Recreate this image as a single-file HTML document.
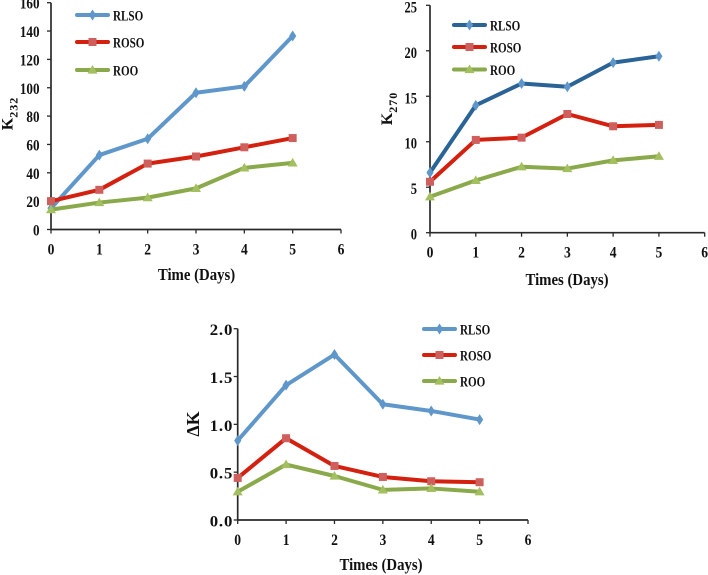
<!DOCTYPE html>
<html>
<head>
<meta charset="utf-8">
<style>
html,body{margin:0;padding:0;background:#fff;width:708px;height:575px;overflow:hidden}
svg{display:block;filter:blur(0.35px)}
text{font-family:"Liberation Serif",serif;font-weight:bold;fill:#111}
</style>
</head>
<body>
<svg id="fig" xmlns="http://www.w3.org/2000/svg" width="708" height="575" viewBox="0 0 708 575"></svg>
<script>
var xTicks = [0, 1, 2, 3, 4, 5, 6];
var days = [0, 1, 2, 3, 4, 5];
var seriesNames = ['RLSO', 'ROSO', 'ROO'];

var k232Ticks = [0, 20, 40, 60, 80, 100, 120, 140, 160];
var k232Rlso = [15, 52.5, 64, 96.5, 101, 136.5];
var k232Roso = [20, 28, 46.5, 51.5, 58, 64.5];
var k232Roo = [14, 19, 22.5, 29, 43.5, 47];

var k270Ticks = [0, 5, 10, 15, 20, 25];
var k270Rlso = [6.6, 14.0, 16.4, 16.05, 18.7, 19.4];
var k270Roso = [5.6, 10.2, 10.45, 13.05, 11.7, 11.85];
var k270Roo = [3.95, 5.75, 7.25, 7.05, 7.95, 8.4];

var deltaTicks = ['0.0', '0.5', '1.0', '1.5', '2.0'];
var deltaRlso = [0.83, 1.41, 1.73, 1.21, 1.14, 1.05];
var deltaRoso = [0.44, 0.855, 0.565, 0.45, 0.405, 0.395];
var deltaRoo = [0.295, 0.58, 0.46, 0.315, 0.33, 0.295];

var NS = 'http://www.w3.org/2000/svg';
var fig = document.getElementById('fig');

function make(parent, tag, attrs) {
  var el = document.createElementNS(NS, tag);
  for (var k in attrs) el.setAttribute(k, attrs[k]);
  parent.appendChild(el);
  return el;
}

function squeezed(parent, x, y, scale, anchor, size, spacing) {
  return make(parent, 'text', {
    transform: 'translate(' + x + ',' + y + ') scale(' + scale + ',1)',
    'text-anchor': anchor,
    'font-size': size,
    'letter-spacing': spacing
  });
}

function drawMarker(g, kind, x, y, fill) {
  var m;
  if (kind === 0) {
    m = make(g, 'polygon', {points: x + ',' + (y - 5.5) + ' ' + (x + 3.6) + ',' + y + ' ' + x + ',' + (y + 5.5) + ' ' + (x - 3.6) + ',' + y, fill: fill});
  } else if (kind === 1) {
    m = make(g, 'rect', {x: x - 4, y: y - 4, width: 8, height: 8, fill: fill});
  } else {
    m = make(g, 'polygon', {points: x + ',' + (y - 5) + ' ' + (x + 5) + ',' + (y + 3.6) + ' ' + (x - 5) + ',' + (y + 3.6), fill: fill});
  }
  
  
}

function drawChart(c) {
  var root = make(fig, 'g', {});
  
  

  var yMax = parseFloat(c.yTicks[c.yTicks.length - 1]);
  var xMax = xTicks[xTicks.length - 1];
  function sx(v) { return c.x0 + (c.x1 - c.x0) * v / xMax; }
  function sy(v) { return c.y0 + (c.y1 - c.y0) * v / yMax; }

  var yAxis = make(root, 'line', {x1: c.x0, x2: c.x0, y1: c.y0 + 0.8, y2: c.y1, stroke: '#2a2a2a', 'stroke-width': 1.7});
  
  
  var xAxis = make(root, 'line', {x1: c.x0, x2: c.x1, y1: c.y0, y2: c.y0, stroke: '#2a2a2a', 'stroke-width': 1.7});
  
  

  c.yTicks.forEach(function (t) {
    var y = sy(parseFloat(t));
    var tick = make(root, 'line', {x1: c.x0 - 4, x2: c.x0, y1: y, y2: y, stroke: '#2a2a2a', 'stroke-width': 1.3});
    
    
    var lab = squeezed(root, c.x0 - c.tickGap, y + c.tickDy, c.tickScale, 'end', 16, c.tickSpacing);
    lab.textContent = t;
    
    
  });

  xTicks.forEach(function (t) {
    var x = sx(t);
    var tick = make(root, 'line', {x1: x, x2: x, y1: c.y0, y2: c.y0 + 4, stroke: '#2a2a2a', 'stroke-width': 1.3});
    
    
    var lab = squeezed(root, x, c.y0 + 25, 0.85, 'middle', 16, 0);
    lab.textContent = t;
    
    
  });

  var xTitle = squeezed(root, c.xTitleX, c.xTitleY, 0.87, 'middle', 17, 0);
  xTitle.textContent = c.xTitle;
  
  

  var yTitle = make(root, 'text', {transform: 'translate(' + c.yTitleX + ',' + c.yTitleY + ') rotate(-90)', 'text-anchor': 'middle', 'font-size': c.yTitleSize});
  
  
  yTitle.appendChild(document.createTextNode(c.yTitle));
  if (c.ySub) {
    var sub = make(yTitle, 'tspan', {dy: 5, 'font-size': 12, 'letter-spacing': 1});
    sub.textContent = c.ySub;
  }

  c.series.forEach(function (vals, i) {
    var g = make(root, 'g', {});
    
    
    var pts = days.map(function (d, j) { return sx(d) + ',' + sy(vals[j]); }).join(' ');
    var line = make(g, 'polyline', {points: pts, fill: 'none', stroke: c.lineColors[i], 'stroke-width': 4, 'stroke-linejoin': 'round', 'stroke-linecap': 'round'});
    
    
    days.forEach(function (d, j) {
      drawMarker(g, i, sx(d), sy(vals[j]), c.markerColors[i]);
    });

    var lg = make(root, 'g', {});
    
    
    var ly = c.legendY[i];
    var ll = make(lg, 'line', {x1: c.legendX, x2: c.legendX + 31, y1: ly, y2: ly, stroke: c.lineColors[i], 'stroke-width': 4, 'stroke-linecap': 'round'});
    
    
    drawMarker(lg, i, c.legendX + 15.5, ly, c.markerColors[i]);
    var lt = squeezed(lg, c.legendX + 36, ly + 5.5, 0.74, 'start', 15, 0);
    lt.textContent = seriesNames[i];
    
    
  });
}

drawChart({
  name: 'k232-chart',
  x0: 51, x1: 341, y0: 229.5, y1: 2.7,
  yTicks: k232Ticks,
  tickGap: 11.5, tickDy: 6, tickScale: 0.82, tickSpacing: 0,
  series: [k232Rlso, k232Roso, k232Roo],
  lineColors: ['#5f97cb', '#d3200f', '#8aa94a'],
  markerColors: ['#5f97cb', '#cf5f5c', '#a3bf5f'],
  legendX: 77, legendY: [15, 42, 70],
  xTitle: 'Time (Days)', xTitleX: 196.5, xTitleY: 280,
  yTitle: 'K', ySub: '232', yTitleX: 12.5, yTitleY: 113.5, yTitleSize: 16
});

drawChart({
  name: 'k270-chart',
  x0: 430, x1: 704.7, y0: 232.7, y1: 5.3,
  yTicks: k270Ticks,
  tickGap: 13, tickDy: 7, tickScale: 0.78, tickSpacing: 0,
  series: [k270Rlso, k270Roso, k270Roo],
  lineColors: ['#2a6396', '#d3200f', '#8aa94a'],
  markerColors: ['#5f97cb', '#cf5f5c', '#a3bf5f'],
  legendX: 454, legendY: [25, 47, 69.5],
  xTitle: 'Times (Days)', xTitleX: 567, xTitleY: 285,
  yTitle: 'K', ySub: '270', yTitleX: 392, yTitleY: 108.5, yTitleSize: 16
});

drawChart({
  name: 'delta-k-chart',
  x0: 237.7, x1: 528, y0: 520, y1: 328.7,
  yTicks: deltaTicks,
  tickGap: 4.5, tickDy: 6.5, tickScale: 1.05, tickSpacing: 0.8,
  series: [deltaRlso, deltaRoso, deltaRoo],
  lineColors: ['#5f97cb', '#d3200f', '#8aa94a'],
  markerColors: ['#5f97cb', '#cf5f5c', '#a3bf5f'],
  legendX: 424, legendY: [329, 355, 381],
  xTitle: 'Times (Days)', xTitleX: 381, xTitleY: 570,
  yTitle: '\u0394K', ySub: '', yTitleX: 199, yTitleY: 424, yTitleSize: 18
});
</script>
</body>
</html>
